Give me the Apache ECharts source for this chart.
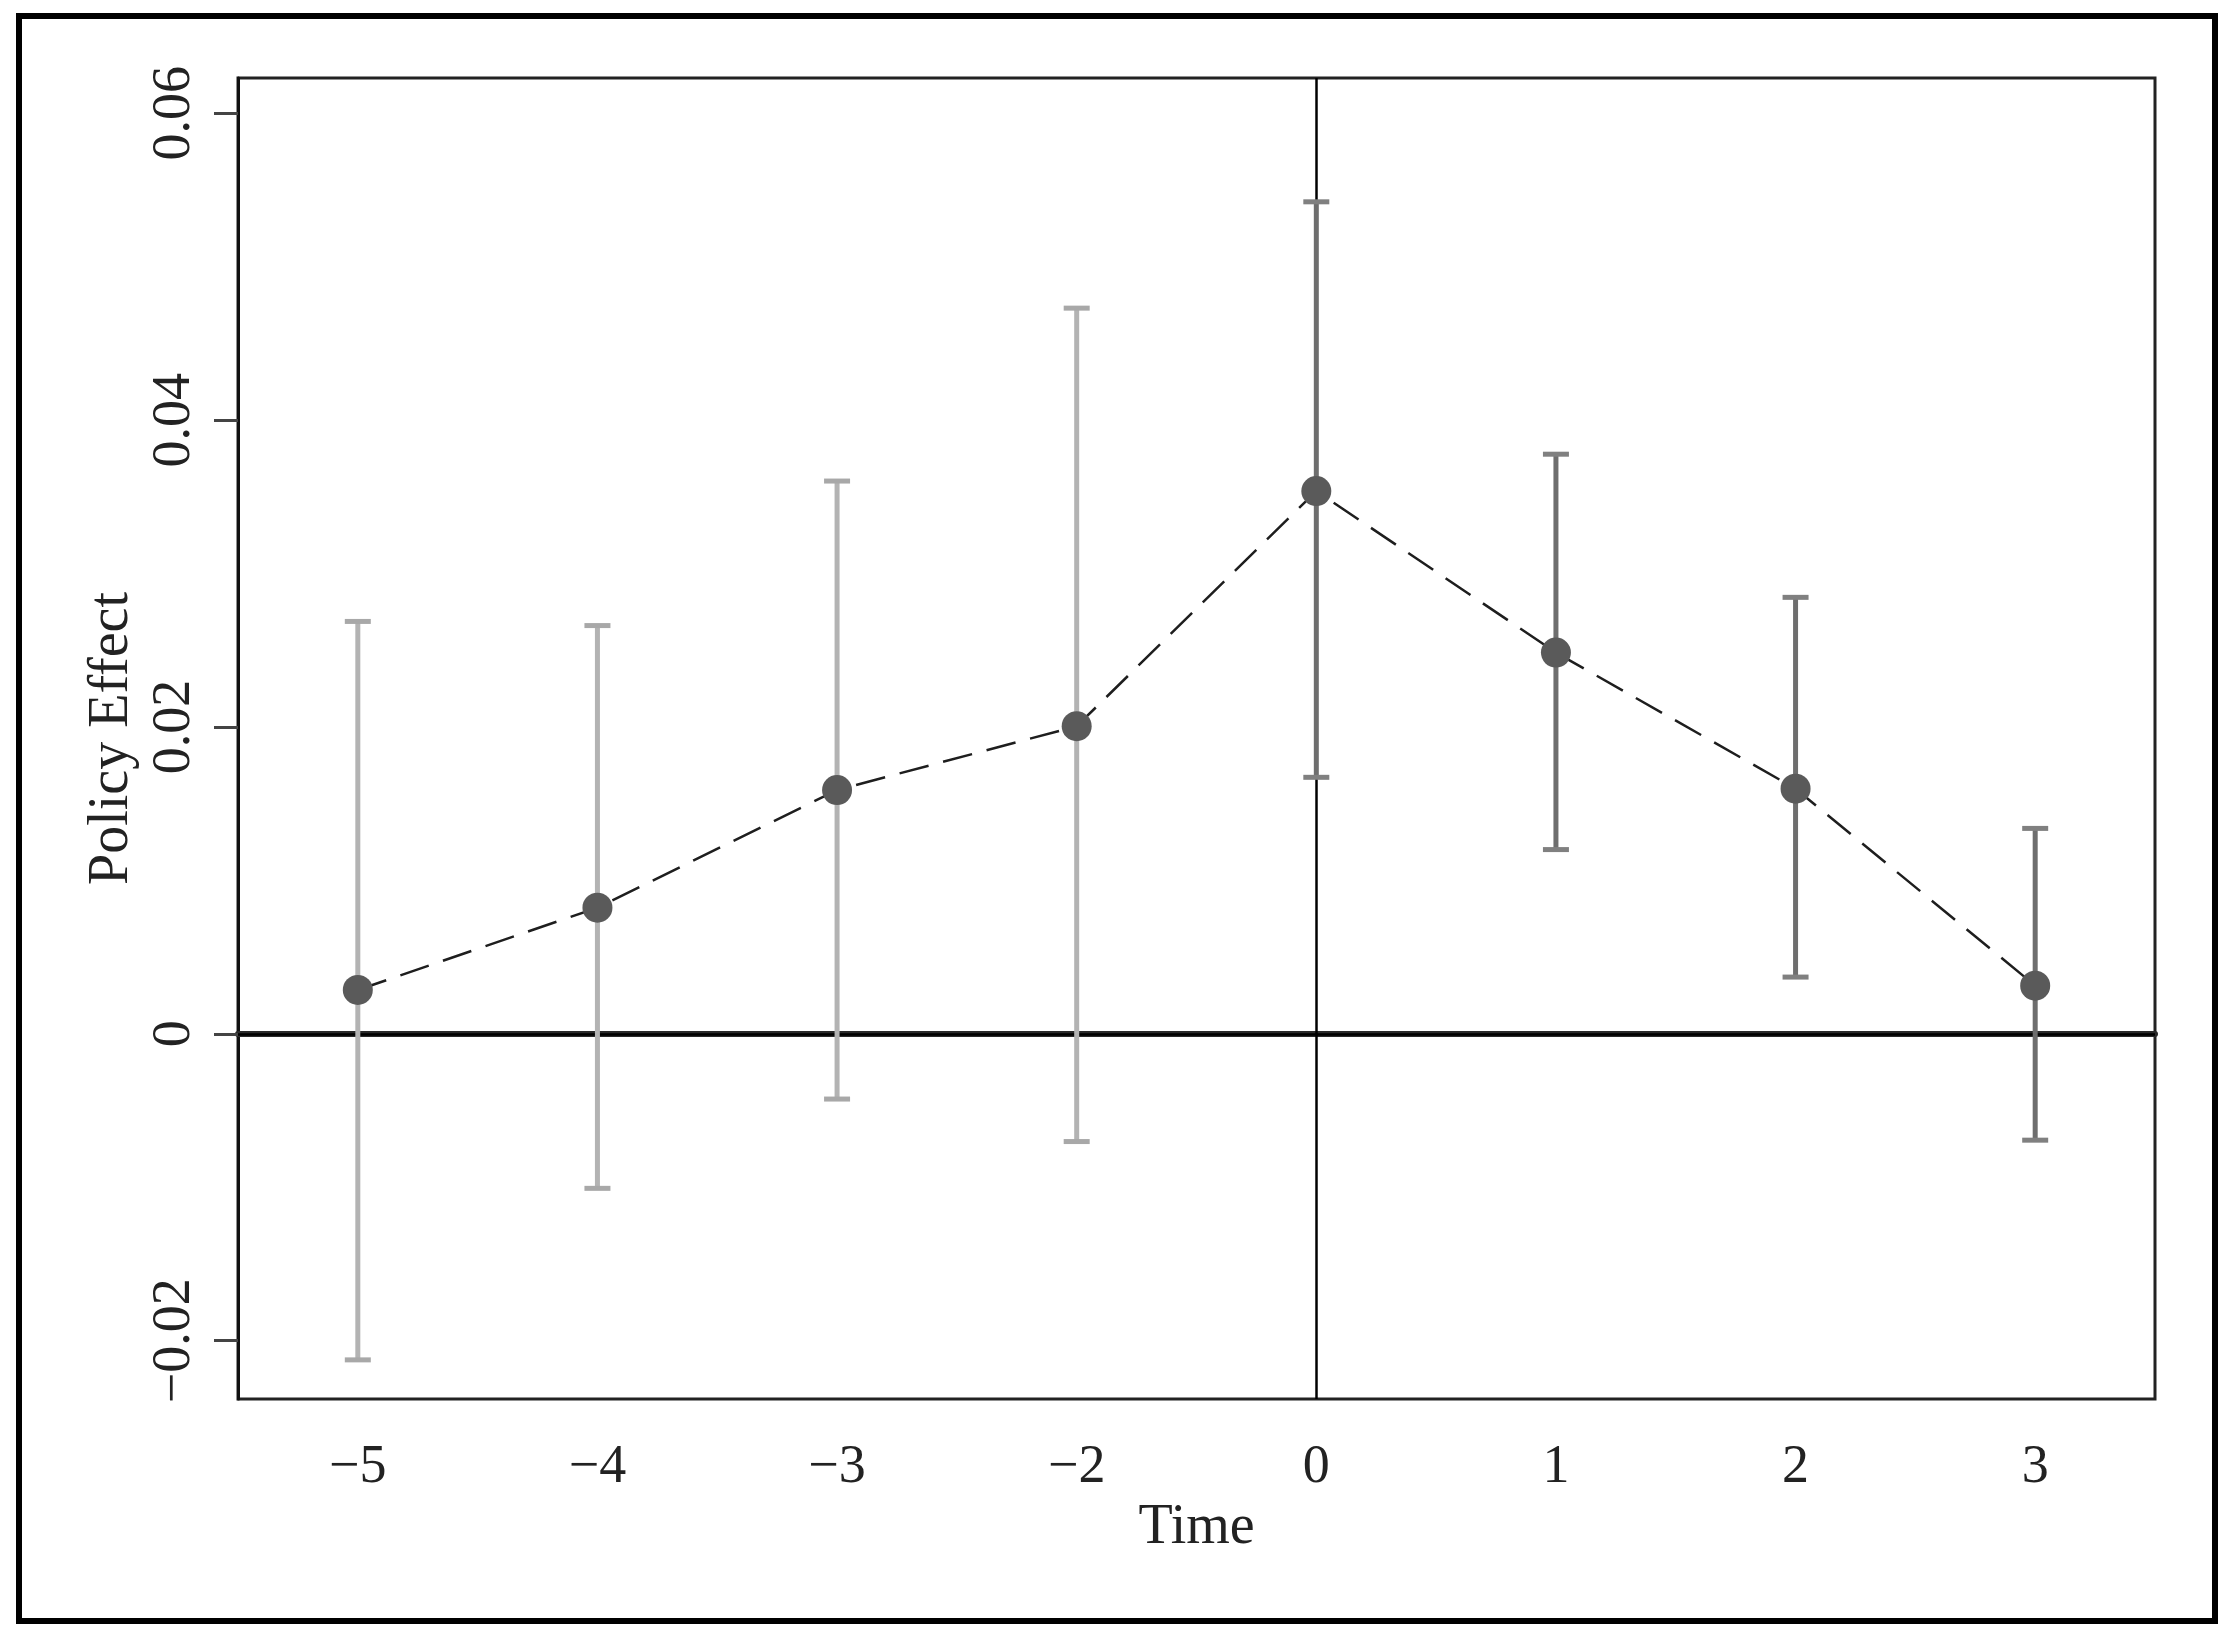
<!DOCTYPE html>
<html>
<head>
<meta charset="utf-8">
<title>Policy Effect</title>
<script src="https://cdn.jsdelivr.net/npm/echarts@6/dist/echarts.min.js"></script>
<style>
  html, body { margin: 0; padding: 0; background: #fff; }
  #chart { width: 2232px; height: 1641px; }
</style>
</head>
<body>
<div id="chart"></div>
<script>
// data
var periods = ['\u22125', '\u22124', '\u22123', '\u22122', '0', '1', '2', '3'];
var effect = [0.00286, 0.00822, 0.01589, 0.02005, 0.03538, 0.02485, 0.01598, 0.00314];
var ciLow = [-0.02125, -0.01007, -0.00425, -0.00702, 0.01672, 0.01201, 0.00370, -0.00693];
var ciHigh = [0.02688, 0.02661, 0.03603, 0.04730, 0.05423, 0.03778, 0.02845, 0.01339];
var yTicks = [-0.02, 0, 0.02, 0.04, 0.06];
var yTickLabels = ['\u22120.02', '0', '0.02', '0.04', '0.06'];

var FONT = 'Liberation Serif';
var chart = echarts.init(document.getElementById('chart'));

var barData = periods.map(function (p, i) { return [i, ciLow[i], ciHigh[i]]; });

chart.setOption({
  backgroundColor: '#fff',
  animation: false,
  graphic: [{
    type: 'rect',
    shape: { x: 19, y: 16, width: 2196, height: 1605 },
    style: { fill: 'none', stroke: '#000', lineWidth: 6 },
    silent: true
  }],
  grid: {
    left: 238, top: 78, width: 1917, height: 1321,
    show: true, borderColor: '#222', borderWidth: 3
  },
  xAxis: {
    type: 'category',
    data: periods,
    name: 'Time',
    nameLocation: 'middle',
    nameGap: 92,
    nameTextStyle: { fontFamily: FONT, fontSize: 56, color: '#222' },
    axisLine: { lineStyle: { color: '#2a2a2a', width: 6 } },
    axisTick: { alignWithLabel: true, length: 22, lineStyle: { color: '#555', width: 3 } },
    axisLabel: { fontFamily: FONT, fontSize: 54, color: '#222', margin: 42 },
    splitLine: { show: false }
  },
  yAxis: {
    type: 'value',
    min: -0.0238,
    max: 0.0623,
    name: 'Policy Effect',
    nameLocation: 'middle',
    nameGap: 98,
    nameTextStyle: { fontFamily: FONT, fontSize: 56, color: '#222' },
    axisLine: { show: true, lineStyle: { color: '#111', width: 3 } },
    axisTick: { show: true, length: 24, customValues: yTicks, lineStyle: { color: '#444', width: 3 } },
    axisLabel: {
      rotate: 90, fontFamily: FONT, fontSize: 54, color: '#222', margin: 36,
      customValues: yTicks,
      formatter: function (v) {
        for (var i = 0; i < yTicks.length; i++) {
          if (Math.abs(v - yTicks[i]) < 1e-9) return yTickLabels[i];
        }
        return '';
      }
    },
    splitLine: { show: false }
  },
  series: [
    {
      // reference lines at y = 0 and x = 0
      type: 'line',
      data: [],
      silent: true,
      markLine: {
        silent: true,
        symbol: 'none',
        label: { show: false },
        lineStyle: { color: '#000', width: 2.5, type: 'solid' },
        data: [{ yAxis: 0 }, { xAxis: '0' }]
      }
    },
    {
      // confidence intervals
      type: 'custom',
      z: 6,
      silent: true,
      data: barData,
      encode: { x: 0, y: [1, 2] },
      renderItem: function (params, api) {
        var i = api.value(0);
        var top = api.coord([i, api.value(2)]);
        var bot = api.coord([i, api.value(1)]);
        var color = i < 4 ? '#b3b3b3' : '#6e6e6e';
        var capColor = i < 4 ? '#a8a8a8' : '#808080';
        var hw = 13;
        return {
          type: 'group',
          children: [
            { type: 'line', shape: { x1: top[0], y1: top[1], x2: bot[0], y2: bot[1] }, style: { stroke: color, lineWidth: 5 } },
            { type: 'line', shape: { x1: top[0] - hw, y1: top[1], x2: top[0] + hw, y2: top[1] }, style: { stroke: capColor, lineWidth: 5 } },
            { type: 'line', shape: { x1: bot[0] - hw, y1: bot[1], x2: bot[0] + hw, y2: bot[1] }, style: { stroke: capColor, lineWidth: 5 } }
          ]
        };
      }
    },
    {
      // point estimates
      type: 'line',
      z: 7,
      data: effect,
      symbol: 'circle',
      symbolSize: 30,
      itemStyle: { color: '#5a5a5a' },
      lineStyle: { color: '#1e1e1e', width: 2.5, type: [30, 15] }
    }
  ]
});
</script>
</body>
</html>
